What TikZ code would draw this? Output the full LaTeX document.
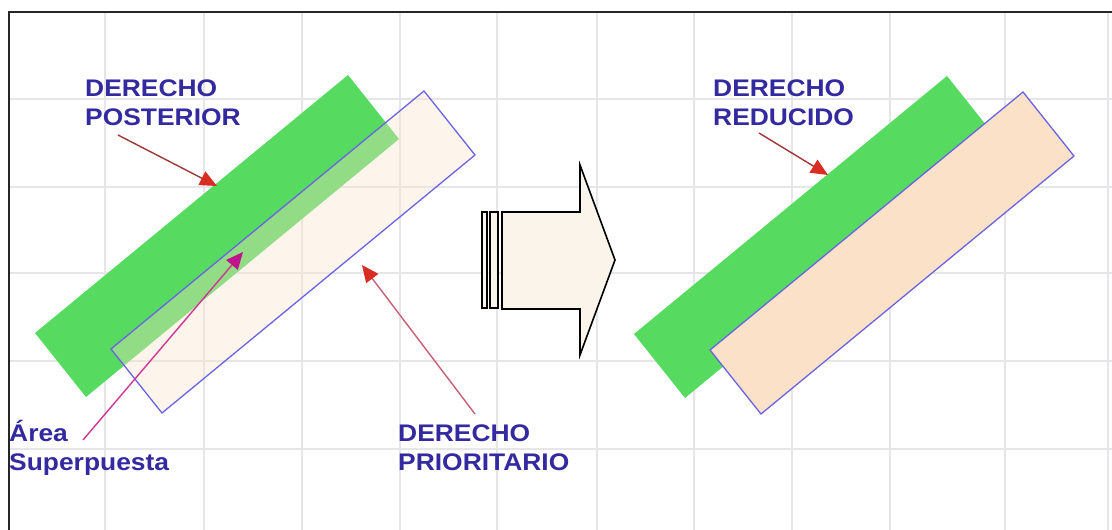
\documentclass[tikz,border=0pt]{standalone}
\usepackage{fontspec}
\setmainfont[FakeStretch=1.1]{Liberation Sans}
\usetikzlibrary{arrows.meta}
\definecolor{gridc}{RGB}{230,230,232}
\definecolor{greenc}{RGB}{86,218,96}
\definecolor{peach}{RGB}{250,225,200}
\definecolor{edgeblue}{RGB}{105,100,225}
\definecolor{txtblue}{RGB}{52,42,160}
\definecolor{tipred}{RGB}{215,45,35}
\definecolor{linered}{RGB}{160,55,55}
\definecolor{linepink}{RGB}{200,95,115}
\definecolor{magline}{RGB}{205,55,150}
\definecolor{magtip}{RGB}{190,20,140}
\definecolor{arrowfill}{RGB}{251,244,235}
\tikzset{
  label/.style={font=\bfseries\fontsize{24}{28.8}\selectfont, text=txtblue, inner sep=0pt, align=left, anchor=base west},
  gridline/.style={draw=gridc, line width=1.3pt},
  strip/.style={fill=greenc},
  prior/.style={fill=peach, draw=edgeblue, line width=1.3pt},
  pointer/.style={line width=1.4pt, draw=linered, -{Triangle[length=17pt,width=15pt,color=tipred]}},
  bigarrow/.style={draw=black, line width=1.6pt, fill=arrowfill, line join=miter}
}
\begin{document}
\begin{tikzpicture}[x=1pt,y=-1pt]
\useasboundingbox (0,0) rectangle (1112,530);
\fill[white] (0,0) rectangle (1112,530);
% grid
\foreach \gx in {105,204,302,400,497,597,694,792,890,1005,1108}
  \draw[gridline] (\gx,12) -- (\gx,530);
\foreach \gy in {99,187,273,361,449}
  \draw[gridline] (9,\gy) -- (1112,\gy);
% frame
\draw[line width=2pt, draw=black!85] (8.5,530) -- (8.5,12) -- (1112,12);

% left: overlap situation
\fill[strip] (348,75) -- (399,139) -- (86,397) -- (35,333) -- cycle;
\fill[peach, fill opacity=0.36] (424,91) -- (475,155) -- (162,413) -- (111,349) -- cycle;
\draw[edgeblue, line width=1.3pt] (424,91) -- (475,155) -- (162,413) -- (111,349) -- cycle;

% right: reduced situation
\fill[strip] (947,76) -- (998,140) -- (685,398) -- (634,334) -- cycle;
\draw[prior] (1023,92) -- (1074,156) -- (761,414) -- (710,350) -- cycle;

% big block arrow
\draw[bigarrow] (482,212) rectangle (487,308);
\draw[bigarrow] (490,212) rectangle (498,308);
\draw[bigarrow] (502,212) -- (580,212) -- (580,165) -- (615,260) -- (580,355) -- (580,309) -- (502,309) -- cycle;

% labels (anchor = baseline of the last line)
\node[label] (posterior) at (85,125) {DERECHO\\POSTERIOR};
\node[label] (reducido) at (713,125.5) {DERECHO\\REDUCIDO};
\node[label] (prioritario) at (398,470) {DERECHO\\PRIORITARIO};
\node[label] (area) at (9,470.5) {Área\\Superpuesta};

% connector endpoints
\coordinate (posS) at (118,135);
\coordinate (posT) at (217,186);
\coordinate (redS) at (759,133);
\coordinate (redT) at (828,175);
\coordinate (areaS) at (83,440);
\coordinate (areaT) at (243,252);
\coordinate (priS) at (475,414);
\coordinate (priT) at (362,265);

\draw[pointer] (posS) -- (posT);
\draw[pointer] (redS) -- (redT);
\draw[pointer, draw=linepink] (priS) -- (priT);
\draw[pointer, draw=magline, -{Triangle[length=17pt,width=15pt,color=magtip]}] (areaS) -- (areaT);
\end{tikzpicture}
\end{document}
